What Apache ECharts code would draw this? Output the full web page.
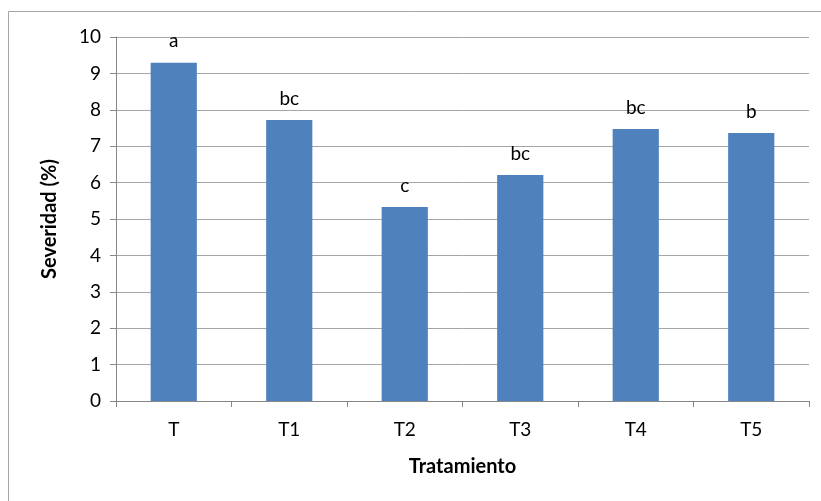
<!DOCTYPE html>
<html>
<head>
<meta charset="utf-8">
<script src="https://cdn.jsdelivr.net/npm/echarts@6/dist/echarts.min.js"></script>
<style>
  html, body { margin: 0; padding: 0; background: #fff; }
  #chart { width: 821px; height: 501px; }
</style>
</head>
<body>
<div id="chart"></div>
<script>
// datos
var tratamientos = ['T', 'T1', 'T2', 'T3', 'T4', 'T5'];
var severidad = [9.29, 7.72, 5.33, 6.21, 7.47, 7.36];
var letras = ['a', 'bc', 'c', 'bc', 'bc', 'b'];

var fuente = 'Lato, "Open Sans", sans-serif';

var option = {
    animation: false,
    backgroundColor: '#fff',
    graphic: [{
        type: 'rect',
        shape: { x: 8.5, y: 11.5, width: 830, height: 520 },
        style: { fill: 'none', stroke: '#a6a6a6', lineWidth: 1 },
        silent: true
    }],
    grid: {
        left: 116,
        right: 12,
        top: 37,
        bottom: 100
    },
    xAxis: {
        type: 'category',
        data: tratamientos,
        name: 'Tratamiento',
        nameLocation: 'middle',
        nameGap: 56,
        nameTextStyle: { fontFamily: fuente, fontSize: 20, fontWeight: 'bold', color: '#000' },
        axisLine: { lineStyle: { color: '#868686' } },
        axisTick: { show: true, length: 6, lineStyle: { color: '#868686' } },
        axisLabel: { fontFamily: fuente, fontSize: 19, color: '#000', margin: 19 }
    },
    yAxis: {
        type: 'value',
        min: 0,
        max: 10,
        interval: 1,
        name: 'Severidad (%)',
        nameLocation: 'middle',
        nameGap: 56,
        nameTextStyle: { fontFamily: fuente, fontSize: 20, fontWeight: 'bold', color: '#000' },
        axisLine: { show: true, lineStyle: { color: '#868686' } },
        axisTick: { show: true, length: 6, lineStyle: { color: '#868686' } },
        axisLabel: { fontFamily: fuente, fontSize: 19, color: '#000', margin: 15 },
        splitLine: { lineStyle: { color: '#a6a6a6' } }
    },
    series: [{
        type: 'bar',
        data: severidad,
        barWidth: '40%',
        itemStyle: { color: '#4f81bd' },
        label: {
            show: true,
            position: 'top',
            distance: 12,
            fontFamily: fuente,
            fontSize: 19,
            color: '#000',
            formatter: function (p) { return letras[p.dataIndex]; }
        }
    }]
};

var myChart = echarts.init(document.getElementById('chart'));
myChart.setOption(option);
</script>
</body>
</html>
